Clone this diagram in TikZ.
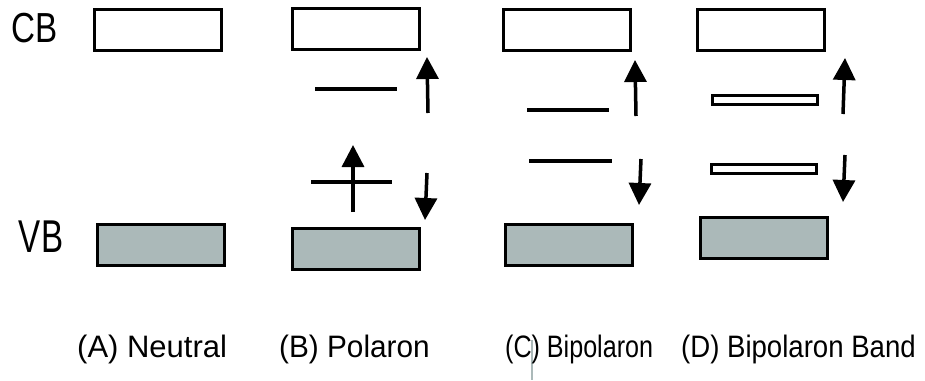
\documentclass[tikz,border=0pt]{standalone}
\usepackage{fontspec}
\setmainfont{Liberation Sans}
\usetikzlibrary{arrows.meta}
\definecolor{vbgray}{RGB}{171,185,185}
\begin{document}
\begin{tikzpicture}[x=1pt,y=-1pt,
  band/.style={draw=black,line width=3pt,minimum width=127pt,minimum height=41pt,inner sep=0pt,outer sep=0pt},
  cbband/.style={band,fill=white},
  vbband/.style={band,fill=vbgray},
  thinband/.style={draw=black,line width=3pt,fill=white,minimum width=105pt,minimum height=9pt,inner sep=0pt},
  level/.style={line width=3.5pt},
  spin/.style={line width=3.5pt,-{Triangle[width=22pt,length=22pt]}},
  lab/.style={font=\fontsize{31}{31}\selectfont,anchor=base west,inner sep=0pt}
]
\useasboundingbox (0,0) rectangle (925,380);
% side labels
\node[font=\fontsize{42}{42}\selectfont,xscale=0.79,inner sep=0pt] (cb) at (35,28) {CB};
\node[font=\fontsize{46}{46}\selectfont,xscale=0.72,inner sep=0pt] (vb) at (41,237) {VB};
% A
\node[cbband] (acb) at (158,30) {};
\node[vbband] (avb) at (161,244.5) {};
% B
\node[cbband] (bcb) at (356,28.5) {};
\node[vbband] (bvb) at (356,248.5) {};
\coordinate (bl1a) at (315,89); \coordinate (bl1b) at (397,89);
\draw[level] (bl1a) -- (bl1b);
\coordinate (bl2a) at (311,182); \coordinate (bl2b) at (392,182);
\draw[level] (bl2a) -- (bl2b);
\coordinate (bu1) at (428,113); \coordinate (bu2) at (427,57);
\draw[spin] (bu1) -- (bu2);
\coordinate (bd1) at (427,173); \coordinate (bd2) at (425,220);
\draw[spin] (bd1) -- (bd2);
\coordinate (bs1) at (353,212); \coordinate (bs2) at (353,145);
\draw[spin] (bs1) -- (bs2);
% C
\node[cbband] (ccb) at (566.5,30) {};
\node[vbband] (cvb) at (569,245) {};
\coordinate (cl1a) at (527,110); \coordinate (cl1b) at (609,110);
\draw[level] (cl1a) -- (cl1b);
\coordinate (cl2a) at (529,161); \coordinate (cl2b) at (612,161);
\draw[level] (cl2a) -- (cl2b);
\coordinate (cu1) at (636,116); \coordinate (cu2) at (635,60);
\draw[spin] (cu1) -- (cu2);
\coordinate (cd1) at (641,159); \coordinate (cd2) at (639,205);
\draw[spin] (cd1) -- (cd2);
% D
\node[cbband] (dcb) at (760.5,30) {};
\node[vbband] (dvb) at (764,237.5) {};
\node[thinband] (dl1) at (765,100) {};
\node[thinband] (dl2) at (763.5,169) {};
\coordinate (du1) at (843,114); \coordinate (du2) at (845,58);
\draw[spin] (du1) -- (du2);
\coordinate (dd1) at (845,155); \coordinate (dd2) at (843,202);
\draw[spin] (dd1) -- (dd2);
% stray gray line
\coordinate (g1) at (532,340); \coordinate (g2) at (532,380);
\draw[vbgray,line width=1.2pt] (g1) -- (g2);
% captions
\node[lab] (la) at (77,357) {(A) Neutral};
\node[lab,xscale=0.96] (lb) at (279,357) {(B) Polaron};
\node[lab,xscale=0.81] (lc) at (505,357) {(C) Bipolaron};
\node[lab,xscale=0.89] (ld) at (681,357) {(D) Bipolaron Band};
\end{tikzpicture}
\end{document}
